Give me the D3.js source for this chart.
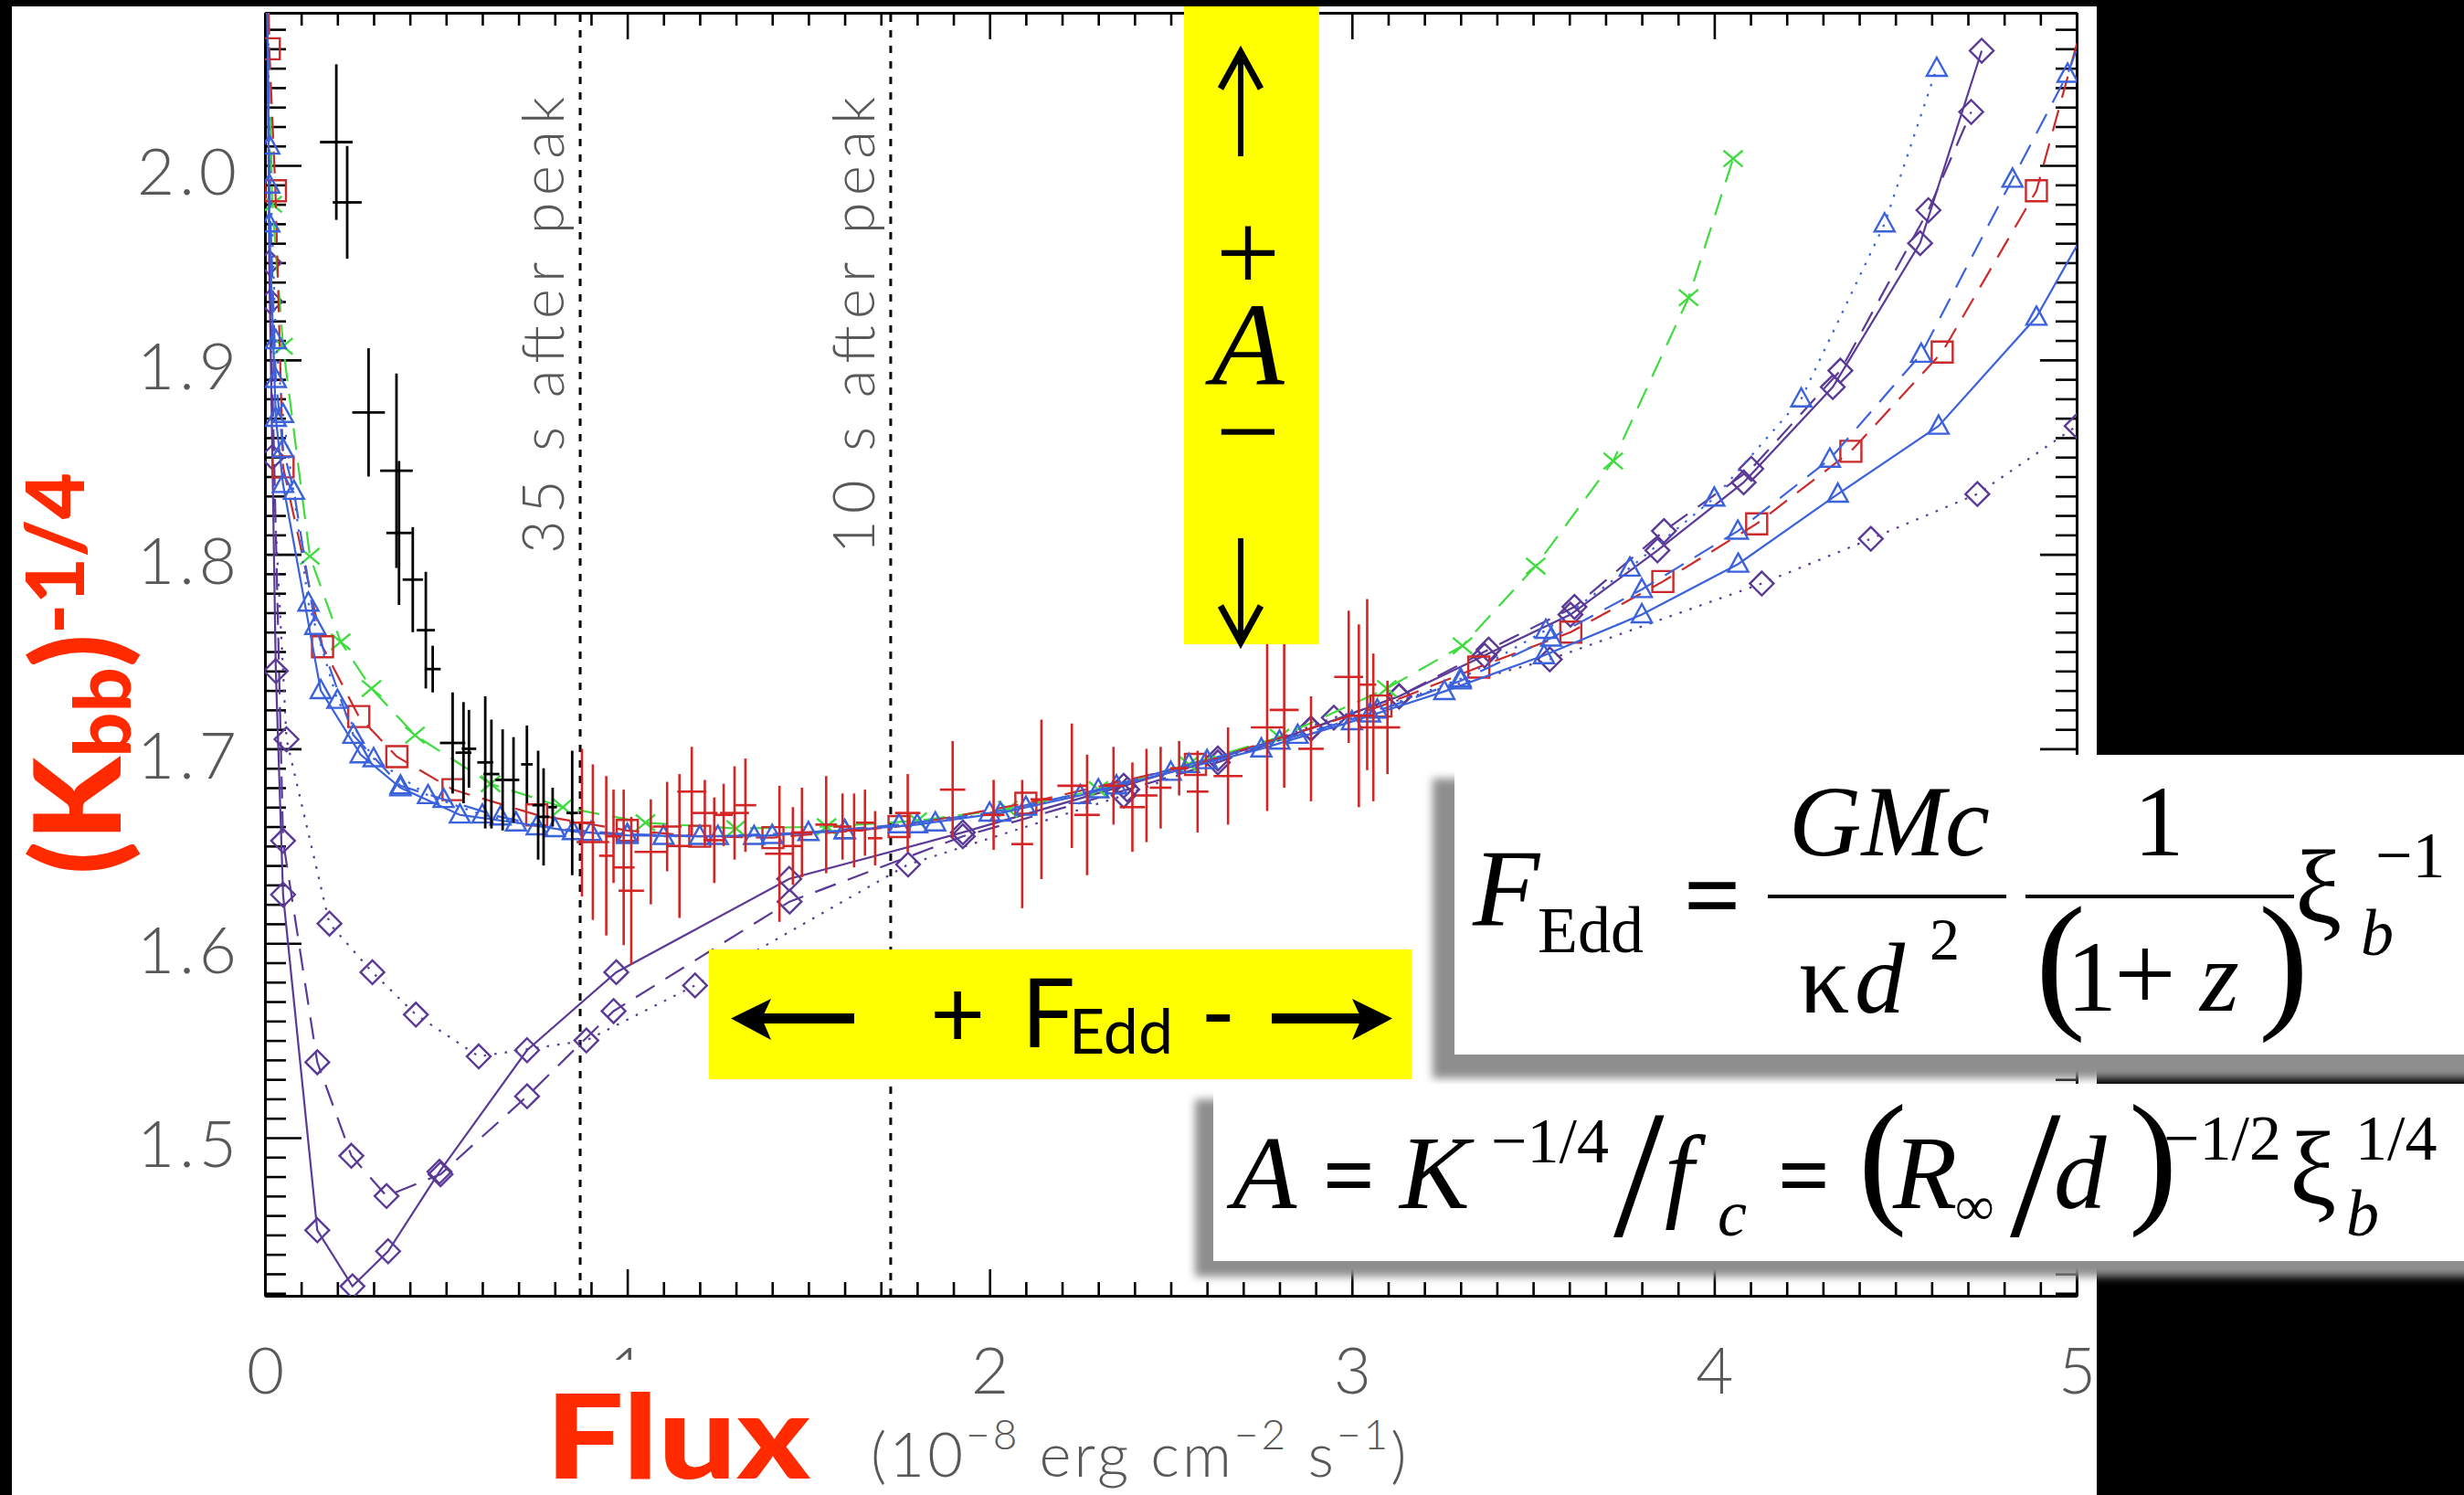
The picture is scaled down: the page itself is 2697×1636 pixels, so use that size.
<!DOCTYPE html>
<html>
<head>
<meta charset="utf-8">
<script src="https://cdn.jsdelivr.net/npm/d3@7"></script>
<style>
  html, body { margin: 0; padding: 0; background: #000; }
  svg { display: block; }
</style>
</head>
<body>
<svg id="chart" width="2697" height="1636"></svg>
<script>
// ---------------- data ----------------
const xTickLabels = [0, 1, 2, 3, 4, 5];
const yTickLabels = [1.5, 1.6, 1.7, 1.8, 1.9, 2.0];

// vertical reference lines (flux) and their captions
const peakLineFlux = [0.870, 1.727];
const peakLineLabels = ["35 s after peak", "10 s after peak"];

// observed points: [flux, K^-1/4, flux error, K error]
const blackData = [
  [0.197, 2.012, 0.045, 0.040],
  [0.227, 1.981, 0.040, 0.029],
  [0.286, 1.873, 0.045, 0.033],
  [0.363, 1.843, 0.045, 0.050],
  [0.370, 1.811, 0.035, 0.037],
  [0.408, 1.787, 0.028, 0.027],
  [0.444, 1.761, 0.025, 0.030],
  [0.463, 1.741, 0.022, 0.012],
  [0.518, 1.703, 0.035, 0.026],
  [0.548, 1.698, 0.022, 0.026],
  [0.563, 1.700, 0.020, 0.020],
  [0.608, 1.693, 0.022, 0.034],
  [0.625, 1.687, 0.022, 0.028],
  [0.656, 1.684, 0.020, 0.026],
  [0.686, 1.684, 0.016, 0.022],
  [0.723, 1.692, 0.016, 0.020],
  [0.754, 1.671, 0.016, 0.028],
  [0.769, 1.665, 0.016, 0.025],
  [0.794, 1.670, 0.012, 0.010],
  [0.848, 1.667, 0.016, 0.032]
];

const redData = [
  [0.875, 1.662, 0.035, 0.038],
  [0.905, 1.652, 0.045, 0.040],
  [0.942, 1.645, 0.020, 0.041],
  [0.962, 1.655, 0.020, 0.024],
  [0.990, 1.639, 0.030, 0.040],
  [1.011, 1.627, 0.035, 0.038],
  [1.065, 1.647, 0.045, 0.027],
  [1.110, 1.660, 0.040, 0.023],
  [1.144, 1.650, 0.035, 0.037],
  [1.178, 1.678, 0.040, 0.023],
  [1.214, 1.667, 0.035, 0.017],
  [1.240, 1.653, 0.030, 0.022],
  [1.266, 1.666, 0.025, 0.016],
  [1.296, 1.667, 0.040, 0.024],
  [1.326, 1.671, 0.030, 0.024],
  [1.420, 1.646, 0.040, 0.035],
  [1.457, 1.650, 0.025, 0.020],
  [1.482, 1.657, 0.030, 0.023],
  [1.549, 1.661, 0.030, 0.025],
  [1.594, 1.660, 0.025, 0.017],
  [1.626, 1.658, 0.025, 0.019],
  [1.656, 1.662, 0.025, 0.017],
  [1.684, 1.654, 0.020, 0.014],
  [1.774, 1.667, 0.035, 0.020],
  [1.898, 1.679, 0.035, 0.025],
  [2.011, 1.666, 0.030, 0.018],
  [2.090, 1.651, 0.030, 0.033],
  [2.143, 1.674, 0.030, 0.041],
  [2.227, 1.681, 0.040, 0.032],
  [2.269, 1.666, 0.035, 0.031],
  [2.342, 1.681, 0.030, 0.020],
  [2.394, 1.670, 0.035, 0.023],
  [2.433, 1.676, 0.030, 0.024],
  [2.472, 1.680, 0.030, 0.021],
  [2.523, 1.690, 0.025, 0.014],
  [2.574, 1.678, 0.030, 0.021],
  [2.658, 1.686, 0.040, 0.025],
  [2.766, 1.711, 0.045, 0.043],
  [2.813, 1.720, 0.040, 0.040],
  [2.887, 1.700, 0.035, 0.027],
  [2.991, 1.737, 0.040, 0.034],
  [3.019, 1.717, 0.035, 0.047],
  [3.042, 1.733, 0.025, 0.044],
  [3.059, 1.711, 0.035, 0.038],
  [3.098, 1.711, 0.035, 0.024]
];

// model tracks: [flux, K^-1/4]
const modelGreenDashed = [
  [0.003, 2.15], [0.02, 1.98], [0.05, 1.907], [0.124, 1.799], [0.209, 1.755],
  [0.294, 1.731], [0.414, 1.707], [0.623, 1.682], [0.822, 1.670], [1.05, 1.662],
  [1.30, 1.659], [1.55, 1.660], [1.80, 1.663], [2.05, 1.669], [2.30, 1.679],
  [2.55, 1.692], [2.80, 1.706], [3.096, 1.731], [3.305, 1.753], [3.507, 1.794],
  [3.721, 1.848], [3.929, 1.932], [4.052, 2.0035]
];

const modelRedDashed = [
  [0.003, 2.15], [0.012, 2.06], [0.029, 1.987], [0.05, 1.845], [0.159, 1.7525],
  [0.259, 1.7166], [0.364, 1.696], [0.519, 1.679], [0.75, 1.666], [1.0, 1.658],
  [1.20, 1.655], [1.402, 1.6543], [1.75, 1.660], [2.10, 1.672], [2.568, 1.692],
  [3.08, 1.722], [3.35, 1.742], [3.604, 1.760], [3.858, 1.786], [4.117, 1.8157],
  [4.377, 1.853], [4.629, 1.904], [4.889, 1.987], [5.10, 2.13]
];

const modelBlueSolid = [
  [0.003, 2.15], [0.012, 1.97], [0.03, 1.87], [0.05, 1.836], [0.154, 1.730],
  [0.264, 1.697], [0.374, 1.680], [0.538, 1.666], [0.693, 1.662], [0.85, 1.6575],
  [1.0, 1.6555], [1.2, 1.655], [1.4, 1.6555], [1.6, 1.658], [1.8, 1.661],
  [2.03, 1.667], [2.25, 1.676], [2.5, 1.688], [2.75, 1.700], [3.0, 1.714],
  [3.255, 1.7295], [3.53, 1.748], [3.80, 1.769], [4.066, 1.795], [4.341, 1.831],
  [4.619, 1.866], [4.889, 1.922], [5.05, 1.975]
];

const modelBlueDashed = [
  [0.003, 2.15], [0.012, 1.99], [0.03, 1.89], [0.05, 1.854], [0.080, 1.8325],
  [0.139, 1.763], [0.244, 1.707], [0.374, 1.681], [0.493, 1.674], [0.65, 1.665],
  [0.80, 1.659], [1.0, 1.656], [1.25, 1.655], [1.5, 1.657], [1.75, 1.661],
  [2.0, 1.667], [2.3, 1.679], [2.55, 1.692], [2.8, 1.704], [3.05, 1.718],
  [3.30, 1.735], [3.55, 1.757], [3.80, 1.782], [4.065, 1.812], [4.319, 1.849],
  [4.571, 1.903], [4.823, 1.993], [4.975, 2.047], [5.08, 2.10]
];

const modelBlueDotted = [
  [0.003, 2.15], [0.012, 2.01], [0.03, 1.91], [0.05, 1.872], [0.12, 1.775],
  [0.20, 1.725], [0.30, 1.695], [0.45, 1.676], [0.60, 1.666], [0.75, 1.660],
  [0.90, 1.657], [1.10, 1.655], [1.35, 1.655], [1.60, 1.658], [1.85, 1.662],
  [2.10, 1.670], [2.35, 1.681], [2.60, 1.694], [2.85, 1.707], [3.07, 1.720],
  [3.30, 1.736], [3.535, 1.761], [3.767, 1.793], [4.0, 1.829], [4.240, 1.880],
  [4.470, 1.970], [4.614, 2.050]
];

const modelPurpleSolid = [
  [0.004, 2.15], [0.012, 1.95], [0.03, 1.74], [0.05, 1.625], [0.1445, 1.4524],
  [0.2415, 1.4236], [0.3399, 1.4416], [0.4817, 1.4825], [0.7234, 1.545],
  [0.9696, 1.5851], [1.447, 1.6331], [1.926, 1.657], [2.37, 1.681], [2.63, 1.695],
  [2.887, 1.7104], [3.13, 1.727], [3.366, 1.748], [3.603, 1.769], [3.843, 1.802],
  [4.081, 1.837], [4.327, 1.886], [4.568, 1.960], [4.738, 2.059]
];

const modelPurpleDashed = [
  [0.004, 2.15], [0.015, 1.93], [0.05, 1.6527], [0.1445, 1.5388], [0.2385, 1.4907],
  [0.3355, 1.470], [0.4846, 1.4812], [0.7234, 1.5213], [0.9622, 1.5651],
  [1.448, 1.6214], [1.926, 1.655], [2.38, 1.679], [2.63, 1.693], [2.887, 1.7104],
  [3.13, 1.727], [3.377, 1.751], [3.614, 1.773], [3.861, 1.812], [4.102, 1.844],
  [4.348, 1.8945], [4.591, 1.977], [4.709, 2.0275]
];

const modelPurpleDotted = [
  [0.004, 2.15], [0.02, 1.85], [0.0595, 1.7049], [0.178, 1.6101], [0.2965, 1.5851],
  [0.4166, 1.5633], [0.590, 1.5418], [0.887, 1.550], [1.187, 1.5783], [1.775, 1.6405],
  [2.37, 1.676], [2.95, 1.716], [3.546, 1.746], [4.131, 1.785], [4.432, 1.808],
  [4.726, 1.831], [5.0, 1.866]
];

// ---------------- layout ----------------
const W = 2697, H = 1636;
const plot = { left: 290, right: 2273, top: 14, bottom: 1418 };

const x = d3.scaleLinear().domain([0, 5]).range([plot.left, plot.right]);
const y = d3.scaleLinear().domain([1.4187, 2.0785]).range([plot.bottom, plot.top]);

const svg = d3.select("#chart");
const defs = svg.append("defs");
defs.append("clipPath").attr("id", "plotClip")
  .append("rect")
  .attr("x", plot.left).attr("y", plot.top)
  .attr("width", plot.right - plot.left).attr("height", plot.bottom - plot.top);
const blur = defs.append("filter").attr("id", "shadowBlur")
  .attr("x", "-10%").attr("y", "-10%").attr("width", "120%").attr("height", "130%");
blur.append("feGaussianBlur").attr("stdDeviation", 5);

// page background
svg.append("rect").attr("width", W).attr("height", H).attr("fill", "#000");
svg.append("rect").attr("x", 13).attr("y", 7).attr("width", 2282).attr("height", H - 7).attr("fill", "#fff");

const labelFont = "Lato, 'DejaVu Sans', sans-serif";
const tickGray = "#585858";

// ---------------- axes ----------------
const xMinor = d3.range(1, 50).filter(i => i % 10 !== 0).map(i => i / 10);
const yMinor = d3.range(142, 208).filter(i => i % 10 !== 0).map(i => i / 100);

function styleAxis(g) {
  g.select(".domain").attr("stroke", "#000").attr("stroke-width", 3);
  g.selectAll(".tick line").attr("stroke", "#000").attr("stroke-width", 2.6);
}

const gBottom = svg.append("g").attr("transform", `translate(0,${plot.bottom})`)
  .call(d3.axisBottom(x).tickValues(xTickLabels).tickSize(-29).tickSizeOuter(0)
    .tickPadding(57).tickFormat(d3.format("d")));
styleAxis(gBottom);
gBottom.selectAll(".tick text")
  .attr("font-family", labelFont).attr("font-weight", 300)
  .attr("font-size", 71).attr("fill", tickGray);
svg.append("g").attr("transform", `translate(0,${plot.bottom})`)
  .call(d3.axisBottom(x).tickValues(xMinor).tickSize(-15).tickSizeOuter(0).tickFormat(""))
  .call(styleAxis);

const gTop = svg.append("g").attr("transform", `translate(0,${plot.top})`)
  .call(d3.axisTop(x).tickValues(xTickLabels).tickSize(-29).tickSizeOuter(0).tickFormat(""));
styleAxis(gTop);
svg.append("g").attr("transform", `translate(0,${plot.top})`)
  .call(d3.axisTop(x).tickValues(xMinor).tickSize(-14).tickSizeOuter(0).tickFormat(""))
  .call(styleAxis);

const gLeft = svg.append("g").attr("transform", `translate(${plot.left},0)`)
  .call(d3.axisLeft(y).tickValues(yTickLabels).tickSize(-40).tickSizeOuter(0)
    .tickPadding(26).tickFormat(d3.format(".1f")));
styleAxis(gLeft);
gLeft.selectAll(".tick text")
  .attr("font-family", labelFont).attr("font-weight", 300)
  .attr("font-size", 71).attr("fill", tickGray).attr("dy", "0.45em")
  .attr("letter-spacing", 5);
svg.append("g").attr("transform", `translate(${plot.left},0)`)
  .call(d3.axisLeft(y).tickValues(yMinor).tickSize(-23).tickSizeOuter(0).tickFormat(""))
  .call(styleAxis);

svg.append("g").attr("transform", `translate(${plot.right},0)`)
  .call(d3.axisRight(y).tickValues(yTickLabels).tickSize(-40).tickSizeOuter(0).tickFormat(""))
  .call(styleAxis);
svg.append("g").attr("transform", `translate(${plot.right},0)`)
  .call(d3.axisRight(y).tickValues(yMinor).tickSize(-23).tickSizeOuter(0).tickFormat(""))
  .call(styleAxis);

// ---------------- reference lines ----------------
const refG = svg.append("g");
peakLineFlux.forEach((f, i) => {
  refG.append("line")
    .attr("x1", x(f)).attr("x2", x(f))
    .attr("y1", plot.bottom).attr("y2", plot.top)
    .attr("stroke", "#000").attr("stroke-width", 3)
    .attr("stroke-dasharray", "8,9");
  refG.append("text")
    .attr("transform", `translate(${x(f) - 18},${606}) rotate(-90)`)
    .attr("font-family", labelFont).attr("font-weight", 300)
    .attr("font-size", 63).attr("fill", tickGray)
    .attr("textLength", 500).attr("lengthAdjust", "spacing")
    .text(peakLineLabels[i]);
});

// ---------------- models ----------------
const markerShapes = {
  triangle: s => `M0,${-s * 0.58}L${s * 0.55},${s * 0.42}L${-s * 0.55},${s * 0.42}Z`,
  square: s => `M${-s / 2},${-s / 2}h${s}v${s}h${-s}Z`,
  diamond: s => `M0,${-s / 2}L${s / 2},0L0,${s / 2}L${-s / 2},0Z`,
  cross: s => `M${-s / 2},${-s * 0.42}L${s / 2},${s * 0.42}M${s / 2},${-s * 0.42}L${-s / 2},${s * 0.42}`
};

const GREEN = "#3fdc3f", RED = "#cc2a2a", BLUE = "#3b62dc", PURPLE = "#5a3a96";
const DASH = "24,14", DOT = "2.6,9";

const models = [
  { data: modelPurpleDotted, color: PURPLE, dash: DOT, marker: "diamond", size: 26 },
  { data: modelPurpleDashed, color: PURPLE, dash: DASH, marker: "diamond", size: 26 },
  { data: modelPurpleSolid, color: PURPLE, dash: null, marker: "diamond", size: 26 },
  { data: modelGreenDashed, color: GREEN, dash: DASH, marker: "cross", size: 21 },
  { data: modelRedDashed, color: RED, dash: DASH, marker: "square", size: 23 },
  { data: modelBlueDotted, color: BLUE, dash: DOT, marker: "triangle", size: 20 },
  { data: modelBlueDashed, color: BLUE, dash: DASH, marker: "triangle", size: 20 },
  { data: modelBlueSolid, color: BLUE, dash: null, marker: "triangle", size: 20 }
];

const plotG = svg.append("g").attr("clip-path", "url(#plotClip)");
const line = d3.line().x(d => x(d[0])).y(d => y(d[1]));

models.forEach(m => {
  plotG.append("path")
    .attr("d", line(m.data))
    .attr("fill", "none").attr("stroke", m.color).attr("stroke-width", 2.2)
    .attr("stroke-dasharray", m.dash);
  plotG.append("g").selectAll("path").data(m.data).join("path")
    .attr("transform", d => `translate(${x(d[0])},${y(d[1])})`)
    .attr("d", markerShapes[m.marker](m.size))
    .attr("fill", "none").attr("stroke", m.color).attr("stroke-width", 2.4);
});

// ---------------- observations ----------------
function errorBars(data, color, width) {
  const g = plotG.append("g").attr("stroke", color).attr("stroke-width", width);
  g.selectAll("line.v").data(data).join("line").attr("class", "v")
    .attr("x1", d => x(d[0])).attr("x2", d => x(d[0]))
    .attr("y1", d => y(d[1] - d[3])).attr("y2", d => y(d[1] + d[3]));
  g.selectAll("line.h").data(data).join("line").attr("class", "h")
    .attr("x1", d => x(d[0] - d[2])).attr("x2", d => x(d[0] + d[2]))
    .attr("y1", d => y(d[1])).attr("y2", d => y(d[1]));
}
errorBars(redData, "#d42424", 2.6);
errorBars(blackData, "#000", 2.8);

// ---------------- axis titles ----------------
const titleRed = "#ff2a00";
const titleFont = "Lato, 'DejaVu Sans', sans-serif";

// white patch behind the x title
svg.append("rect").attr("x", 575).attr("y", 1488).attr("width", 335).attr("height", 148).attr("fill", "#fff");

svg.append("text")
  .attr("x", 597).attr("y", 1618)
  .attr("font-family", titleFont).attr("font-weight", 900)
  .attr("font-size", 128).attr("fill", titleRed)
  .attr("textLength", 290).attr("lengthAdjust", "spacingAndGlyphs")
  .text("Flux");

const units = svg.append("text")
  .attr("x", 953).attr("y", 1616)
  .attr("font-family", labelFont).attr("font-weight", 300)
  .attr("font-size", 67).attr("fill", tickGray)
  .attr("letter-spacing", 3);
units.append("tspan").text("(10");
units.append("tspan").attr("font-size", 46).attr("dy", -30).text("\u22128");
units.append("tspan").attr("dy", 30).text(" erg cm");
units.append("tspan").attr("font-size", 46).attr("dy", -30).text("\u22122");
units.append("tspan").attr("dy", 30).text(" s");
units.append("tspan").attr("font-size", 46).attr("dy", -30).text("\u22121");
units.append("tspan").attr("dy", 30).text(")");

const yTitle = svg.append("text")
  .attr("transform", "translate(132,957) rotate(-90)")
  .attr("font-family", titleFont).attr("font-weight", 900)
  .attr("fill", titleRed);
yTitle.append("tspan").attr("font-size", 132).text("(K");
yTitle.append("tspan").attr("font-size", 86).attr("dy", 11).text("bb");
yTitle.append("tspan").attr("font-size", 132).attr("dy", -11).text(")");
yTitle.append("tspan").attr("font-size", 88).attr("dy", -40).text("-1/4");

// ---------------- frame ----------------
svg.append("rect").attr("x", 2295).attr("y", 0).attr("width", W - 2295).attr("height", H).attr("fill", "#000");
svg.append("rect").attr("x", 0).attr("y", 0).attr("width", W).attr("height", 7).attr("fill", "#000");
svg.append("rect").attr("x", 0).attr("y", 0).attr("width", 13).attr("height", H).attr("fill", "#000");

// ---------------- annotation: A arrows ----------------
const YELLOW = "#ffff00";
const serif = "'Liberation Serif', 'Times New Roman', serif";
const aBox = svg.append("g");
aBox.append("rect").attr("x", 1296).attr("y", 7).attr("width", 148).attr("height", 698).attr("fill", YELLOW);
aBox.append("line").attr("x1", 1358).attr("x2", 1358).attr("y1", 60).attr("y2", 171)
  .attr("stroke", "#000").attr("stroke-width", 6);
aBox.append("path").attr("d", "M1336,97L1358,57L1380,97")
  .attr("fill", "none").attr("stroke", "#000").attr("stroke-width", 7);
aBox.append("line").attr("x1", 1358).attr("x2", 1358).attr("y1", 589).attr("y2", 700)
  .attr("stroke", "#000").attr("stroke-width", 6);
aBox.append("path").attr("d", "M1336,663L1358,703L1380,663")
  .attr("fill", "none").attr("stroke", "#000").attr("stroke-width", 7);
aBox.append("text").attr("x", 1366).attr("y", 318).attr("text-anchor", "middle")
  .attr("font-family", serif).attr("font-size", 125).text("+");
aBox.append("text").attr("x", 1366).attr("y", 421).attr("text-anchor", "middle")
  .attr("font-family", serif).attr("font-style", "italic").attr("font-size", 130).text("A");
aBox.append("text").attr("x", 1366).attr("y", 514).attr("text-anchor", "middle")
  .attr("font-family", serif).attr("font-size", 125).text("\u2212");

// ---------------- annotation: F_Edd arrows ----------------
const fBox = svg.append("g");
fBox.append("rect").attr("x", 776).attr("y", 1039).attr("width", 769).attr("height", 142).attr("fill", YELLOW);
fBox.append("rect").attr("x", 830).attr("y", 1109).attr("width", 105).attr("height", 11).attr("fill", "#000");
fBox.append("path").attr("d", "M800,1114.5L844,1093L834,1114.5L844,1138Z").attr("fill", "#000");
fBox.append("rect").attr("x", 1392).attr("y", 1109).attr("width", 105).attr("height", 11).attr("fill", "#000");
fBox.append("path").attr("d", "M1524,1114.5L1480,1093L1490,1114.5L1480,1138Z").attr("fill", "#000");
const fText = fBox.append("text").attr("y", 1146).attr("font-family", titleFont).attr("fill", "#000");
fText.append("tspan").attr("x", 1018).attr("font-size", 104).text("+");
fText.append("tspan").attr("x", 1118).attr("font-size", 104).text("F");
fText.append("tspan").attr("x", 1170).attr("dy", 7).attr("font-size", 68).text("Edd");
fText.append("tspan").attr("x", 1314).attr("dy", -7).attr("font-size", 104).text("-");

// ---------------- formula boxes ----------------
function box(x0, y0, x1, y1, dx, dy) {
  svg.append("rect").attr("x", x0 + dx).attr("y", y0 + dy)
    .attr("width", x1 - x0).attr("height", y1 - y0)
    .attr("fill", "#8e8e8e").attr("filter", "url(#shadowBlur)");
  svg.append("rect").attr("x", x0).attr("y", y0)
    .attr("width", x1 - x0).attr("height", y1 - y0).attr("fill", "#fff");
}
box(1592, 826, W + 40, 1154, -24, 26);
box(1328, 1186, W + 40, 1380, -20, 17);

function glyph(str, gx, gy, size, opts = {}) {
  svg.append("text").attr("x", gx).attr("y", gy)
    .attr("font-family", serif).attr("font-size", size)
    .attr("font-style", opts.italic ? "italic" : "normal")
    .attr("font-weight", opts.bold ? "bold" : "normal")
    .attr("text-anchor", opts.anchor || "start")
    .attr("fill", "#000").text(str);
}

// F_Edd = GMc / (kappa d^2) * 1/(1+z) * xi_b^-1
glyph("F", 1612, 1013, 120, { italic: true });
glyph("Edd", 1683, 1042, 72);
glyph("=", 1843, 1017, 110, { bold: true });
glyph("GMc", 2068, 936, 110, { italic: true, anchor: "middle" });
svg.append("line").attr("x1", 1935).attr("x2", 2196).attr("y1", 981).attr("y2", 981)
  .attr("stroke", "#000").attr("stroke-width", 4);
glyph("\u03BA", 1969, 1108, 110);
glyph("d", 2030, 1108, 110, { italic: true });
glyph("2", 2112, 1050, 66);
glyph("1", 2363, 936, 110, { anchor: "middle" });
svg.append("line").attr("x1", 2217).attr("x2", 2511).attr("y1", 981).attr("y2", 981)
  .attr("stroke", "#000").attr("stroke-width", 4);
glyph("(", 2228, 1106, 165);
glyph("1", 2262, 1106, 110);
glyph("+", 2314, 1106, 120);
glyph("z", 2408, 1106, 110, { italic: true });
glyph(")", 2472, 1106, 165);
glyph("\u03BE", 2512, 1010, 115);
glyph("b", 2584, 1045, 72, { italic: true });
glyph("\u22121", 2600, 960, 72);

// A = K^-1/4 / f_c = (R_inf / d)^-1/2 xi_b^1/4
glyph("A", 1349, 1322, 115, { italic: true });
glyph("=", 1448, 1320, 100, { bold: true });
glyph("K", 1532, 1322, 115, { italic: true });
glyph("\u22121/4", 1632, 1272, 70);
glyph("/", 1766, 1352, 200);
glyph("f", 1822, 1322, 115, { italic: true });
glyph("c", 1880, 1352, 72, { italic: true });
glyph("=", 1946, 1320, 100, { bold: true });
glyph("(", 2034, 1320, 160);
glyph("R", 2072, 1322, 115, { italic: true });
glyph("\u221E", 2140, 1340, 60);
glyph("/", 2200, 1352, 200);
glyph("d", 2248, 1322, 115, { italic: true });
glyph(")", 2330, 1320, 160);
glyph("\u22121/2", 2368, 1269, 70);
glyph("\u03BE", 2506, 1318, 115);
glyph("b", 2568, 1352, 72, { italic: true });
glyph("1/4", 2578, 1269, 70);
</script>
</body>
</html>
